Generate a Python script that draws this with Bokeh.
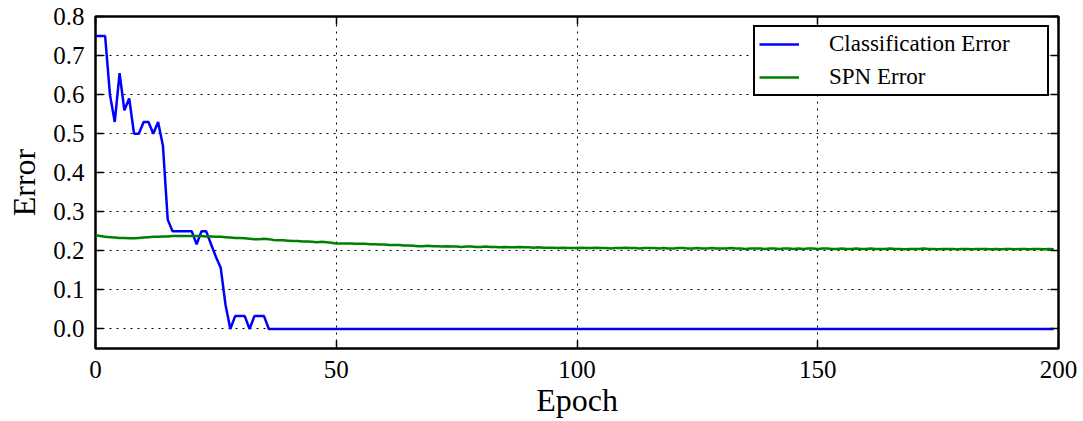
from bokeh.plotting import figure
from bokeh.models import (Range1d, LinearAxis, FixedTicker, PrintfTickFormatter,
                          CustomJSTickFormatter, Legend, LegendItem, ColumnDataSource)
from bokeh.embed import file_html
from bokeh.resources import INLINE

epochs = list(range(200))

class_err_head = [0.75, 0.75, 0.75, 0.60, 0.53, 0.655, 0.56, 0.59, 0.50, 0.50,
                  0.53, 0.53, 0.50, 0.53, 0.47, 0.28, 0.25, 0.25, 0.25, 0.25,
                  0.25, 0.217, 0.25, 0.25, 0.217, 0.185, 0.157, 0.062, 0.0, 0.033,
                  0.033, 0.033, 0.0, 0.033, 0.033, 0.033]
class_err = class_err_head + [0.0] * (200 - len(class_err_head))

spn_err = [
    0.240, 0.238, 0.236, 0.235, 0.234, 0.233, 0.233, 0.232, 0.232, 0.233,
    0.234, 0.235, 0.236, 0.236, 0.237, 0.237, 0.238, 0.238, 0.238, 0.238,
    0.238, 0.238, 0.238, 0.237, 0.237, 0.236, 0.236, 0.235, 0.234, 0.233,
    0.233, 0.232, 0.231, 0.230, 0.230, 0.231, 0.230, 0.228, 0.227, 0.227,
    0.226, 0.225, 0.225, 0.224, 0.224, 0.223, 0.222, 0.223, 0.222, 0.221,
    0.219, 0.219, 0.219, 0.219, 0.218, 0.218, 0.218, 0.217, 0.217, 0.216,
    0.216, 0.215, 0.215, 0.215, 0.214, 0.214, 0.213, 0.212, 0.212, 0.213,
    0.212, 0.212, 0.211, 0.212, 0.211, 0.211, 0.210, 0.211, 0.211, 0.210,
    0.210, 0.211, 0.210, 0.210, 0.209, 0.210, 0.209, 0.209, 0.210, 0.209,
    0.209, 0.208, 0.209, 0.208, 0.208, 0.208, 0.207, 0.208, 0.207, 0.207,
    0.207, 0.208, 0.207, 0.207, 0.208, 0.207, 0.207, 0.206, 0.207, 0.207,
    0.208, 0.207, 0.207, 0.206, 0.207, 0.207, 0.207, 0.206, 0.207, 0.206,
    0.206, 0.207, 0.207, 0.206, 0.206, 0.207, 0.206, 0.206, 0.207, 0.206,
    0.206, 0.206, 0.207, 0.206, 0.206, 0.205, 0.206, 0.206, 0.206, 0.205,
    0.206, 0.206, 0.205, 0.206, 0.206, 0.205, 0.206, 0.205, 0.206, 0.206,
    0.205, 0.206, 0.206, 0.205, 0.205, 0.206, 0.205, 0.205, 0.206, 0.205,
    0.205, 0.206, 0.205, 0.205, 0.205, 0.206, 0.205, 0.205, 0.204, 0.205,
    0.205, 0.205, 0.206, 0.205, 0.205, 0.204, 0.205, 0.205, 0.205, 0.204,
    0.205, 0.205, 0.204, 0.205, 0.205, 0.205, 0.204, 0.205, 0.204, 0.205,
    0.205, 0.204, 0.205, 0.205, 0.204, 0.205, 0.205, 0.204, 0.205, 0.204,
]

x_ticks = [0, 50, 100, 150, 200]
y_ticks = [0.0, 0.1, 0.2, 0.3, 0.4, 0.5, 0.6, 0.7, 0.8]

FONT = "Liberation Serif"

p = figure(width=1083, height=421, output_backend="svg", toolbar_location=None,
           x_range=Range1d(0, 200), y_range=Range1d(-0.05, 0.8),
           min_border_left=95, min_border_right=25, min_border_top=16, min_border_bottom=73,
           x_axis_label="Epoch", y_axis_label="Error")

src = ColumnDataSource(dict(epoch=epochs, cls=class_err, spn=spn_err))
r1 = p.line("epoch", "cls", source=src, line_color="#0000ff", line_width=2.5)
r2 = p.line("epoch", "spn", source=src, line_color="#008000", line_width=2.5)

p.outline_line_color = "black"
p.outline_line_width = 2.5
p.outline_line_alpha = 1

for ax in (p.xaxis[0], p.yaxis[0]):
    ax.axis_line_color = None
    ax.major_tick_in = 8
    ax.major_tick_out = 0
    ax.major_tick_line_color = "black"
    ax.major_tick_line_width = 1.5
    ax.minor_tick_line_color = None
    ax.major_label_text_font = FONT
    ax.major_label_text_font_size = "25px"
    ax.major_label_text_color = "black"
    ax.axis_label_text_font = FONT
    ax.axis_label_text_font_size = "32px"
    ax.axis_label_text_font_style = "normal"
    ax.axis_label_text_color = "black"

p.xaxis[0].ticker = FixedTicker(ticks=x_ticks)
p.yaxis[0].ticker = FixedTicker(ticks=y_ticks)
p.yaxis[0].formatter = PrintfTickFormatter(format="%.1f")
p.xaxis[0].major_label_standoff = 12
p.yaxis[0].major_label_standoff = 11
p.xaxis[0].axis_label_standoff = 1
p.yaxis[0].axis_label_standoff = 8

blank = CustomJSTickFormatter(code="return ''")
top = LinearAxis(ticker=FixedTicker(ticks=x_ticks), formatter=blank,
                 axis_line_color=None, major_tick_in=8, major_tick_out=0,
                 major_label_standoff=0, major_tick_line_width=1.5,
                 minor_tick_line_color=None)
right = LinearAxis(ticker=FixedTicker(ticks=y_ticks), formatter=blank,
                   axis_line_color=None, major_tick_in=8, major_tick_out=0,
                   major_label_standoff=0, major_tick_line_width=1.5,
                   minor_tick_line_color=None)
p.add_layout(top, "above")
p.add_layout(right, "right")

p.xgrid.ticker = FixedTicker(ticks=[50, 100, 150])
p.ygrid.ticker = FixedTicker(ticks=y_ticks[:-1])
for g in (p.xgrid[0], p.ygrid[0]):
    g.grid_line_color = "black"
    g.grid_line_dash = "2 5"
    g.grid_line_width = 1

legend = Legend(items=[LegendItem(label="Classification Error", renderers=[r1]),
                       LegendItem(label="SPN Error", renderers=[r2])],
                location="top_right")
legend.label_text_font = FONT
legend.label_text_font_size = "23px"
legend.label_text_color = "black"
legend.glyph_width = 40
legend.glyph_height = 20
legend.label_standoff = 30
legend.label_width = 214
legend.padding = 4
legend.spacing = 7
legend.label_height = 20
legend.margin = 9
legend.border_line_color = "black"
legend.border_line_width = 2.5
legend.border_line_alpha = 1
legend.background_fill_alpha = 1
p.add_layout(legend, "center")

open("out.html", "w").write(file_html(p, INLINE))
